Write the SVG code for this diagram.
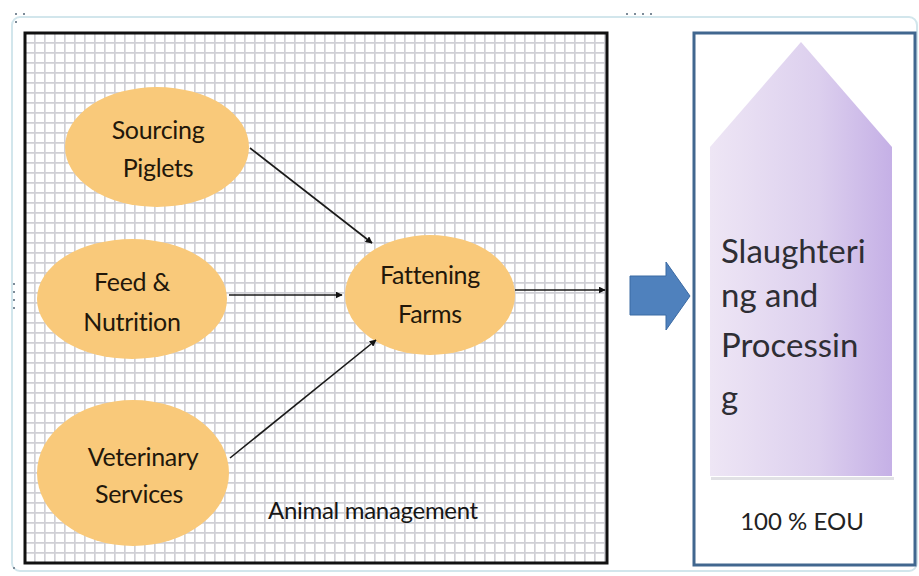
<svg xmlns="http://www.w3.org/2000/svg" width="919" height="576" viewBox="0 0 919 576">
<defs>
<style>
.ell{fill:#f9c97a;}
.lbl{font-family:Lato,"Liberation Sans",sans-serif;font-size:25px;fill:#22170a;text-anchor:middle;letter-spacing:-0.3px;}
.conn{stroke:#1a1a1a;stroke-width:1.6;fill:none;marker-end:url(#ah);}
.hd{fill:#7d8b98;}
.big{font-family:Lato,"Liberation Sans",sans-serif;font-size:33px;fill:#2e2e34;}
</style>
<marker id="ah" viewBox="0 0 10 10" refX="9" refY="5" markerWidth="7" markerHeight="7" markerUnits="userSpaceOnUse" orient="auto">
<path d="M0,0 L10,5 L0,10 z" fill="#111"/>
</marker>
<pattern id="grid" x="24" y="32" width="10" height="10" patternUnits="userSpaceOnUse">
<rect width="10" height="10" fill="#fff"/>
<path d="M0,0.8 H10 M0.8,0 V10" stroke="#cfcfd5" stroke-width="1.7"/>
</pattern>
<linearGradient id="purp" x1="0" y1="0" x2="1" y2="0">
<stop offset="0" stop-color="#eee6f5"/>
<stop offset="0.6" stop-color="#dccfee"/>
<stop offset="1" stop-color="#c5b0e6"/>
</linearGradient>
</defs>
<rect width="919" height="576" fill="#fff"/>
<g id="frame">
<rect x="12" y="17" width="905" height="554" rx="8" fill="none" stroke="#d2e6ec" stroke-width="2"/>
<rect class="hd" x="15" y="13" width="2" height="2"/><rect class="hd" x="23" y="13" width="2" height="2"/><rect class="hd" x="15" y="21" width="2" height="2"/>
<rect class="hd" x="626" y="13" width="2" height="2"/><rect class="hd" x="634" y="13" width="2" height="2"/><rect class="hd" x="642" y="13" width="2" height="2"/><rect class="hd" x="650" y="13" width="2" height="2"/>
<rect class="hd" x="13" y="283" width="2" height="2"/><rect class="hd" x="13" y="291" width="2" height="2"/><rect class="hd" x="13" y="299" width="2" height="2"/><rect class="hd" x="13" y="307" width="2" height="2"/>
<rect class="hd" x="13" y="567" width="2" height="2"/>
</g>
<g id="animal-management">
<rect x="25" y="33" width="582" height="530" fill="url(#grid)" stroke="#111" stroke-width="3"/>
<text x="268" y="519" font-family="Lato,'Liberation Sans',sans-serif" font-size="24" fill="#161616" letter-spacing="-0.3">Animal management</text>
</g>
<g id="sourcing-piglets">
<ellipse class="ell" cx="157" cy="147" rx="92" ry="60"/>
<text class="lbl" x="158" y="139">Sourcing</text>
<text class="lbl" x="158" y="177">Piglets</text>
</g>
<g id="feed-nutrition">
<ellipse class="ell" cx="132" cy="299" rx="95" ry="60"/>
<text class="lbl" x="132" y="291">Feed &amp;</text>
<text class="lbl" x="132" y="331">Nutrition</text>
</g>
<g id="veterinary-services">
<ellipse class="ell" cx="133" cy="473" rx="96" ry="73"/>
<text class="lbl" x="143" y="466">Veterinary</text>
<text class="lbl" x="139" y="503">Services</text>
</g>
<g id="fattening-farms">
<ellipse class="ell" cx="430" cy="295" rx="85" ry="60"/>
<text class="lbl" x="430" y="284">Fattening</text>
<text class="lbl" x="430" y="323">Farms</text>
</g>
<g id="connectors">
<line class="conn" x1="250" y1="148" x2="372" y2="243"/>
<line class="conn" x1="229" y1="295" x2="342" y2="295"/>
<line class="conn" x1="230" y1="458" x2="376" y2="340"/>
<line class="conn" x1="515" y1="290" x2="605" y2="290"/>
<path d="M630,276 H666 V262 L690,296 L666,330 V315 H630 Z" fill="#4f81bd" stroke="#3b6aa3" stroke-width="1"/>
</g>
<g id="slaughtering">
<rect x="694" y="33" width="221" height="532" fill="#fff" stroke="#41678f" stroke-width="3"/>
<path d="M711,477 H894 V480 H711 Z" fill="#d9d9df" opacity="0.8"/>
<path d="M710,147 L801,42 L892,147 V476 H710 Z" fill="url(#purp)"/>
<text class="big" x="721" y="263">Slaughteri</text>
<text class="big" x="721" y="307">ng and</text>
<text class="big" x="721" y="357">Processin</text>
<text class="big" x="721" y="409">g</text>
<text x="802" y="530" font-family="Lato,'Liberation Sans',sans-serif" font-size="24" fill="#222" text-anchor="middle">100 % EOU</text>
</g>
</svg>
